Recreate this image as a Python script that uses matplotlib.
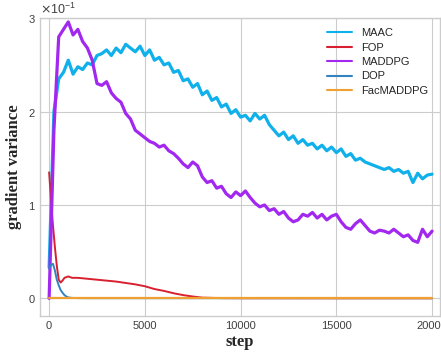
import matplotlib.pyplot as plt

# steps shared by MAAC and MADDPG
steps = list(range(0, 20001, 250))

maac = [0.33, 2.0, 2.35, 2.42, 2.55, 2.4, 2.48, 2.45, 2.52, 2.5,
        2.6, 2.62, 2.66, 2.6, 2.68, 2.63, 2.72, 2.68, 2.64, 2.7,
        2.6, 2.66, 2.55, 2.58, 2.5, 2.52, 2.42, 2.44, 2.33, 2.35,
        2.26, 2.3, 2.18, 2.22, 2.12, 2.15, 2.05, 2.08, 1.98, 2.02,
        1.94, 1.96, 1.9, 1.98, 1.92, 1.96, 1.86, 1.8, 1.74, 1.78,
        1.7, 1.74, 1.66, 1.7, 1.64, 1.66, 1.6, 1.64, 1.58, 1.62,
        1.56, 1.6, 1.52, 1.55, 1.48, 1.5, 1.46, 1.44, 1.42, 1.4,
        1.38, 1.4, 1.36, 1.38, 1.34, 1.36, 1.24, 1.34, 1.28, 1.32,
        1.33]

maddpg = [0.0, 1.8, 2.8, 2.88, 2.96, 2.82, 2.88, 2.75, 2.68, 2.55,
          2.3, 2.28, 2.32, 2.2, 2.14, 2.1, 1.98, 1.92, 1.8, 1.76,
          1.72, 1.68, 1.66, 1.62, 1.64, 1.58, 1.55, 1.5, 1.44, 1.4,
          1.46, 1.42, 1.3, 1.24, 1.26, 1.18, 1.2, 1.12, 1.08, 1.14,
          1.1, 1.15, 1.08, 1.02, 0.98, 1.0, 0.94, 0.96, 0.9, 0.93,
          0.86, 0.82, 0.84, 0.9, 0.88, 0.92, 0.86, 0.9, 0.84, 0.88,
          0.9, 0.82, 0.76, 0.74, 0.8, 0.84, 0.78, 0.72, 0.7, 0.73,
          0.72, 0.7, 0.74, 0.7, 0.66, 0.68, 0.62, 0.6, 0.74, 0.66,
          0.72]

fop_steps = [0, 100, 200, 300, 400, 500, 600, 700, 800, 1000, 1200, 1500,
             2000, 2500, 3000, 3500, 4000, 4500, 5000, 5500, 6000, 6500,
             7000, 7500, 8000, 9000, 10000, 15000, 20000]
fop = [1.35, 1.05, 0.78, 0.55, 0.35, 0.2, 0.17, 0.19, 0.22, 0.235, 0.22, 0.22,
       0.21, 0.2, 0.19, 0.18, 0.165, 0.15, 0.13, 0.1, 0.08, 0.055,
       0.035, 0.02, 0.008, 0.003, 0.002, 0.001, 0.001]

dop_steps = [0, 100, 200, 300, 400, 500, 600, 700, 800, 900, 1000, 1200,
             1500, 2000, 20000]
dop = [0.32, 0.36, 0.37, 0.3, 0.2, 0.14, 0.09, 0.06, 0.035, 0.02, 0.01,
       0.005, 0.003, 0.002, 0.002]

fac_steps = [0, 20000]
fac = [0.005, 0.005]

def scale(vals):
    return [v * 0.1 for v in vals]

plt.style.use('seaborn-v0_8-whitegrid')
plt.rcParams['font.family'] = ['Liberation Sans', 'DejaVu Sans']

fig = plt.figure(figsize=(4.41, 3.56), dpi=100)
ax = fig.add_axes([0.091, 0.112, 0.907, 0.837])

ax.plot(steps, scale(maac), color='#10b0ea', lw=2.3, label='MAAC')
ax.plot(fop_steps, scale(fop), color='#d8202f', lw=1.4, label='FOP')
ax.plot(steps, scale(maddpg), color='#a228f0', lw=2.3, label='MADDPG')
ax.plot(dop_steps, scale(dop), color='#3383c0', lw=1.4, label='DOP')
ax.plot(fac_steps, scale(fac), color='#f0a030', lw=1.6, label='FacMADDPG')

ax.set_xlim(-470, 20420)
ax.set_ylim(-0.019, 0.3)
ax.set_xticks([0, 5000, 10000, 15000, 20000])
ax.set_yticks([0, 0.1, 0.2, 0.3])
ax.ticklabel_format(axis='y', style='sci', scilimits=(0, 0), useMathText=True)
ax.tick_params(labelsize=8, colors='0.25')
ax.yaxis.get_offset_text().set_fontsize(9)

ax.set_xlabel('step', family='Liberation Serif', fontweight='bold', fontsize=12, labelpad=2)
ax.set_ylabel('gradient variance', family='Liberation Serif', fontweight='bold', fontsize=12, labelpad=4)

leg = ax.legend(loc='upper right', fontsize=8, frameon=False, handlelength=2.3,
                labelspacing=0.4, bbox_to_anchor=(0.995, 1.0))
for line in leg.get_lines():
    line.set_linewidth(1.5)

fig.savefig('out.png', dpi=100)
